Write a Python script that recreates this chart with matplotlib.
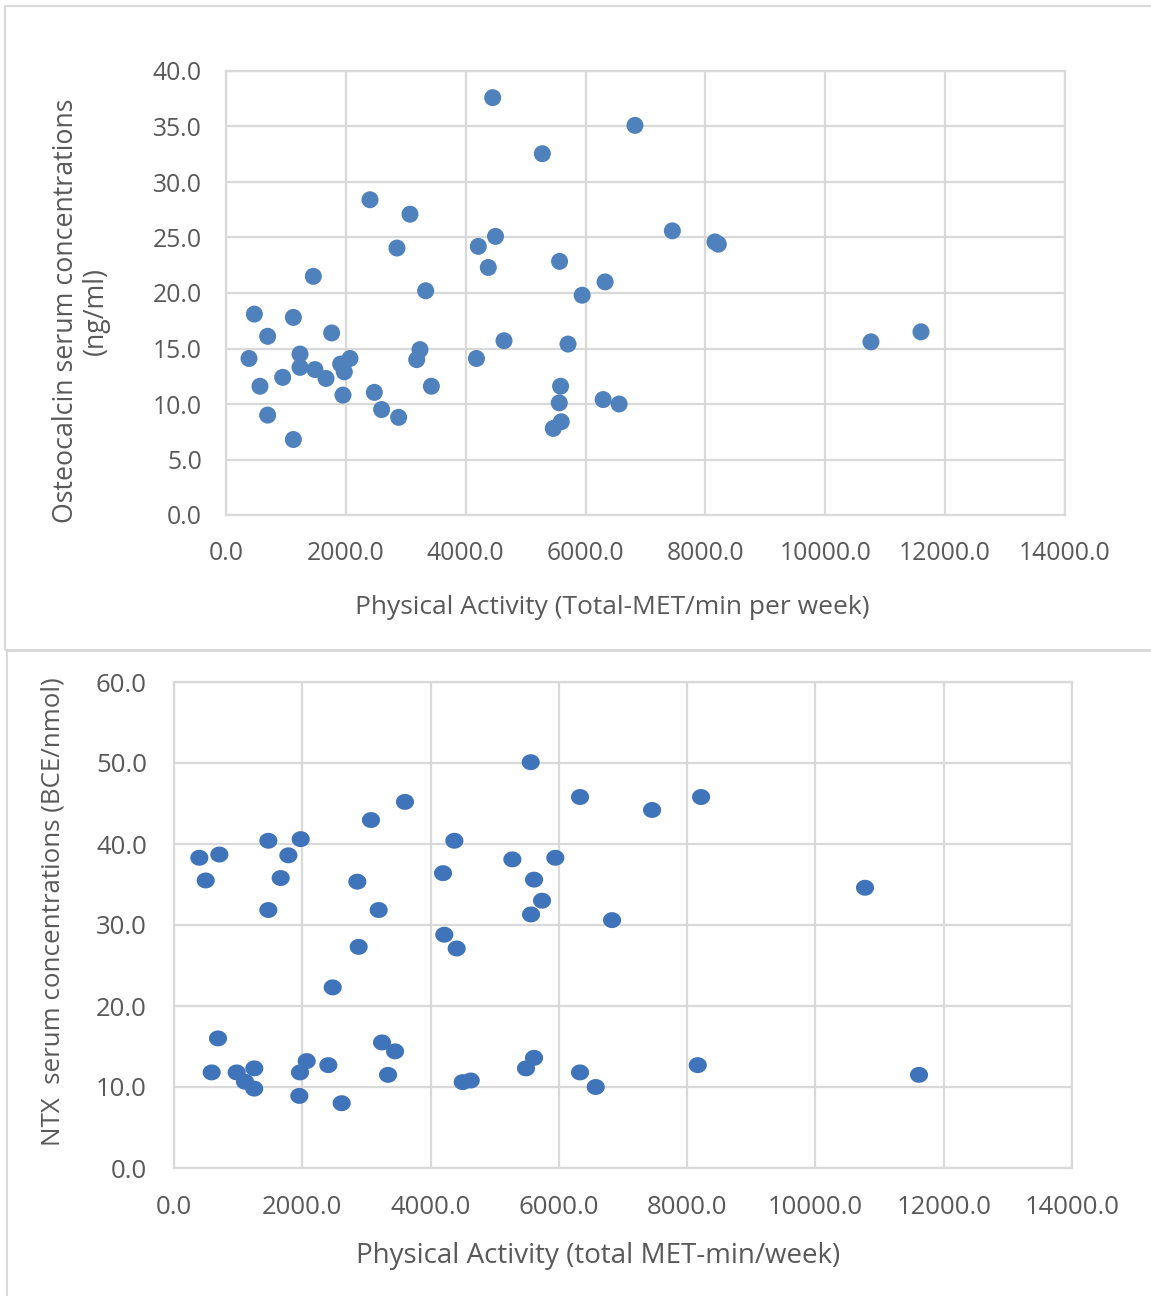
import matplotlib
matplotlib.use("Agg")
import matplotlib.pyplot as plt
import numpy as np
from matplotlib.patches import Rectangle

# Osteocalcin vs physical activity
oc_met = [384, 473, 567, 695, 695, 946, 1124, 1124, 1235, 1235, 1457, 1485, 1669,
          1763, 1913, 1952, 1974, 2069, 2403, 2475, 2597, 2853, 2881, 3070, 3182,
          3237, 3332, 3427, 4179, 4210, 4377, 4450, 4497, 4639, 5278, 5461, 5566,
          5561, 5583, 5594, 5707, 5943, 6293, 6326, 6560, 6824, 7448, 8159, 8215,
          10762, 11597]
oc_conc = [14.1, 18.1, 11.6, 16.1, 9.0, 12.4, 17.8, 6.8, 14.5, 13.3, 21.5, 13.1, 12.3,
           16.4, 13.6, 10.8, 12.9, 14.1, 28.4, 11.05, 9.5, 24.05, 8.8, 27.1, 14.0,
           14.9, 20.2, 11.6, 14.1, 24.2, 22.3, 37.6, 25.1, 15.7, 32.55, 7.8, 22.85,
           10.1, 11.6, 8.4, 15.4, 19.8, 10.4, 21.0, 10.0, 35.1, 25.6, 24.6, 24.4,
           15.6, 16.5]

# NTX vs physical activity
ntx_met = [395, 494, 587, 686, 707, 977, 1107, 1250, 1252, 1471, 1471, 1663, 1783,
           1954, 1964, 1975, 2069, 2406, 2474, 2614, 2858, 2879, 3071, 3191, 3243,
           3337, 3446, 3601, 4194, 4214, 4371, 4407, 4501, 4626, 5275, 5488, 5561,
           5566, 5613, 5613, 5738, 5945, 6330, 6330, 6575, 6829, 7453, 8165, 8217,
           10773, 11615]
ntx_conc = [38.3, 35.5, 11.8, 16.0, 38.7, 11.8, 10.65, 9.8, 12.3, 40.4, 31.85, 35.8, 38.6,
            8.9, 11.8, 40.6, 13.2, 12.7, 22.3, 8.0, 35.35, 27.3, 42.96, 31.85, 15.5,
            11.5, 14.4, 45.2, 36.4, 28.8, 40.4, 27.1, 10.6, 10.8, 38.1, 12.3, 50.1,
            31.3, 35.6, 13.6, 33.0, 38.3, 45.8, 11.8, 10.0, 30.6, 44.2, 12.7, 45.8,
            34.6, 11.5]

W, H = 1151, 1296
FONT = "Open Sans"
TXT = "#595959"
GRID = "#d9d9d9"

fig = plt.figure(figsize=(W / 100, H / 100), dpi=100)
fig.patch.set_facecolor("white")

def px_axes(left, top, right, bottom):
	# axes placed by pixel edges
	return fig.add_axes([left / W, 1 - bottom / H, (right - left) / W, (bottom - top) / H])

def style(ax, xmax, ymax, ystep, size, ypad, xpad):
	ax.set_xlim(0, xmax)
	ax.set_ylim(0, ymax)
	ax.set_xticks(np.arange(0, xmax + 1, 2000))
	ax.set_yticks(np.arange(0, ymax + 0.1, ystep))
	ax.set_xticklabels(["{:.1f}".format(v) for v in ax.get_xticks()])
	ax.set_yticklabels(["{:.1f}".format(v) for v in ax.get_yticks()])
	ax.grid(True, color=GRID, linewidth=1.6)
	ax.set_axisbelow(True)
	for s in ax.spines.values():
		s.set_color(GRID)
		s.set_linewidth(1.6)
	ax.tick_params(length=0, labelsize=size, labelcolor=TXT)
	ax.tick_params(axis="y", pad=ypad)
	ax.tick_params(axis="x", pad=xpad)
	for lab in ax.get_xticklabels() + ax.get_yticklabels():
		lab.set_family(FONT)

# panel borders (right/bottom edges run off the canvas)
fig.patches.append(Rectangle((5 / W, 1 - 650 / H), 1160 / W, 644 / H, transform=fig.transFigure,
                             fill=False, edgecolor="#d9d9d9", linewidth=1.5))
fig.patches.append(Rectangle((7 / W, 1 - 1310 / H), 1160 / W, 659 / H, transform=fig.transFigure,
                             fill=False, edgecolor="#d9d9d9", linewidth=1.5))

ax1 = px_axes(226, 71, 1065, 515)
ax1.scatter(oc_met, oc_conc, s=150, color="#4f81bd", edgecolors="none", zorder=3)
style(ax1, 14000, 40, 5, 17.8, 17.3, 18.5)
fig.text(612 / W, 1 - 608 / H, "Physical Activity (Total-MET/min per week)", ha="center", va="center",
         fontsize=19, color=TXT, family=FONT)
fig.text(81 / W, 1 - 311 / H, "Osteocalcin serum concentrations\n(ng/ml)", ha="center", va="center",
         rotation=90, multialignment="center", fontsize=19.3, color=TXT, family=FONT, linespacing=1.05)

# slightly flattened dots for the lower chart
t = np.linspace(0, 2 * np.pi, 60)
ellipse = np.column_stack([np.cos(t), 0.88 * np.sin(t)])

ax2 = px_axes(174, 682, 1072, 1168)
ax2.scatter(ntx_met, ntx_conc, s=170, marker=ellipse, color="#3f74ba", edgecolors="none", zorder=3)
style(ax2, 14000, 60, 10, 18.5, 19.5, 19.5)
fig.text(598 / W, 1 - 1256 / H, "Physical Activity (total MET-min/week)", ha="center", va="center",
         fontsize=20, color=TXT, family=FONT)
fig.text(53 / W, 1 - 912 / H, "NTX  serum concentrations (BCE/nmol)", ha="center", va="center",
         rotation=90, fontsize=18.6, color=TXT, family=FONT)

fig.savefig("out.png", dpi=100)
